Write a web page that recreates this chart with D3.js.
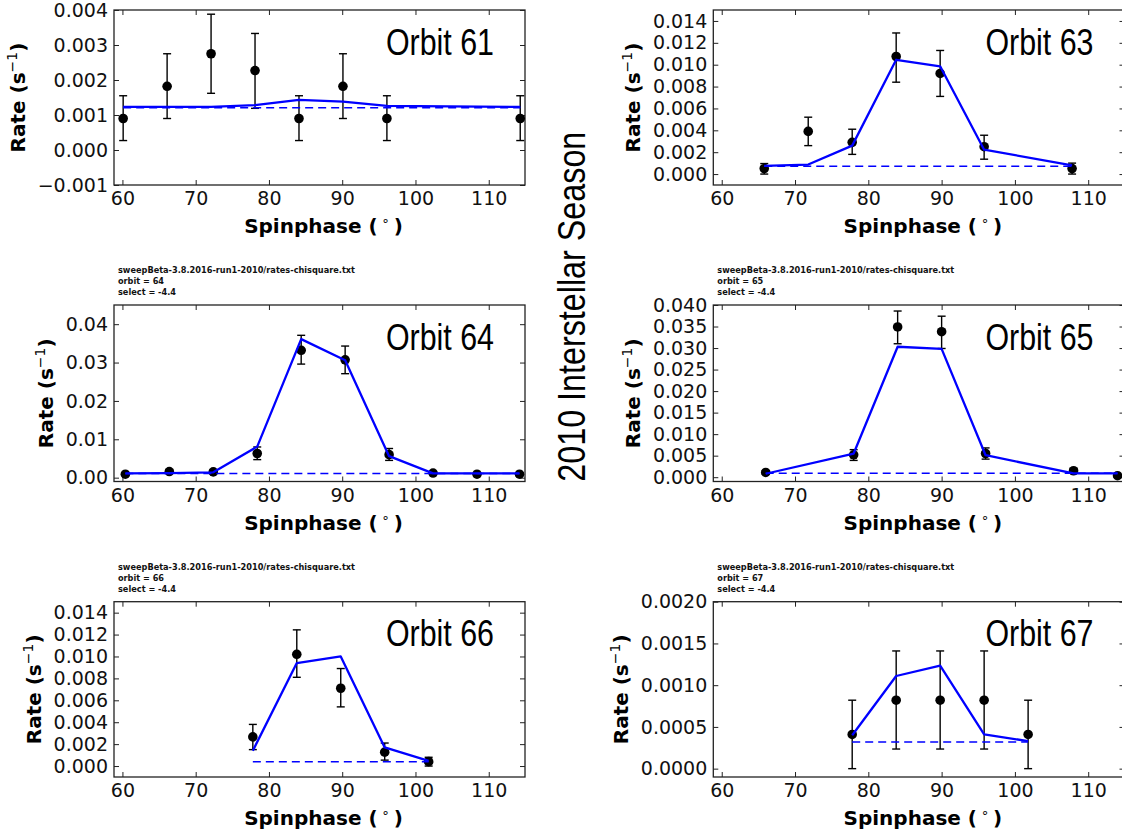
<!DOCTYPE html>
<html lang="en">
<head>
<meta charset="utf-8">
<title>2010 Interstellar Season</title>
<script src="https://d3js.org/d3.v7.min.js"></script>
<style>
  body { margin: 0; background: #fff; }
  svg { display: block; }
</style>
</head>
<body>
<svg id="fig"></svg>
<script>
// spinphase ticks shared by every panel
var xTickValues = [60, 70, 80, 90, 100, 110];

// Orbit 61
var phase61 = [60.1, 66.1, 72.1, 78.1, 84.1, 90.1, 96.1, 114.3];
var rate61  = [0.0009, 0.00182, 0.00275, 0.00227, 0.0009, 0.00182, 0.0009, 0.0009];
var lo61    = [0.00027, 0.0009, 0.00162, 0.00119, 0.00027, 0.0009, 0.00027, 0.00027];
var hi61    = [0.00155, 0.00275, 0.00388, 0.00333, 0.00155, 0.00275, 0.00155, 0.00155];
var model61 = [0.00123, 0.00123, 0.00123, 0.00128, 0.00143, 0.00138, 0.00126, 0.00123];
var base61  = 0.00121;
var yTicks61 = [-0.001, 0, 0.001, 0.002, 0.003, 0.004];

// Orbit 63
var phase63 = [65.8, 71.8, 77.8, 83.8, 89.8, 95.8, 107.8];
var rate63  = [0.00051, 0.0039, 0.0029, 0.01075, 0.0092, 0.0025, 0.0005];
var lo63    = [0.0, 0.0026, 0.0018, 0.0084, 0.0071, 0.00136, 0.0];
var hi63    = [0.00096, 0.0052, 0.0041, 0.0129, 0.0113, 0.00355, 0.001];
var model63 = [0.00075, 0.00087, 0.0026, 0.01045, 0.00985, 0.00223, 0.0008];
var base63  = 0.00072;
var yTicks63 = [0, 0.002, 0.004, 0.006, 0.008, 0.010, 0.012, 0.014];

// Orbit 64
var phase64 = [60.4, 66.4, 72.4, 78.4, 84.4, 90.4, 96.4, 102.4, 108.4, 114.2];
var rate64  = [0.0009, 0.0016, 0.0015, 0.0063, 0.0332, 0.0307, 0.006, 0.0012, 0.0009, 0.0009];
var lo64    = [0.0005, 0.0011, 0.001, 0.0047, 0.0296, 0.0271, 0.0045, 0.0008, 0.0005, 0.0005];
var hi64    = [0.0013, 0.0021, 0.002, 0.008, 0.0371, 0.0343, 0.0076, 0.0016, 0.0013, 0.0013];
var model64 = [0.0011, 0.0012, 0.0014, 0.0081, 0.0361, 0.0306, 0.0056, 0.0011, 0.0011, 0.0011];
var base64  = 0.0011;
var yTicks64 = [0, 0.01, 0.02, 0.03, 0.04];

// Orbit 65
var phase65 = [66.0, 78.0, 84.0, 90.0, 96.0, 108.0, 114.0];
var rate65  = [0.0011, 0.0052, 0.0349, 0.0338, 0.0055, 0.0015, 0.00035];
var lo65    = [0.0007, 0.0039, 0.031, 0.0299, 0.0042, 0.001, 0.0001];
var hi65    = [0.0015, 0.0064, 0.0386, 0.0374, 0.0068, 0.002, 0.0006];
var model65 = [0.0008, 0.0055, 0.0303, 0.0298, 0.0051, 0.0009, 0.0009];
var base65  = 0.0009;
var yTicks65 = [0, 0.005, 0.010, 0.015, 0.020, 0.025, 0.030, 0.035, 0.040];

// Orbit 66
var phase66 = [77.8, 83.8, 89.8, 95.8, 101.8];
var rate66  = [0.00266, 0.0102, 0.0071, 0.00127, 0.0004];
var lo66    = [0.0015, 0.0081, 0.0054, 0.00054, 0.0];
var hi66    = [0.0038, 0.01243, 0.0089, 0.0021, 0.0008];
var model66 = [0.0014, 0.0094, 0.0100, 0.0017, 0.00048];
var base66  = 0.0004;
var yTicks66 = [0, 0.002, 0.004, 0.006, 0.008, 0.010, 0.012, 0.014];

// Orbit 67
var phase67 = [77.8, 83.8, 89.8, 95.8, 101.8];
var rate67  = [0.00041, 0.00082, 0.00082, 0.00082, 0.00041];
var lo67    = [0.0, 0.000235, 0.000235, 0.000235, 0.0];
var hi67    = [0.00082, 0.00141, 0.00141, 0.00141, 0.00082];
var model67 = [0.0004, 0.00111, 0.001235, 0.00041, 0.00033];
var base67  = 0.00032;
var yTicks67 = [0, 0.0005, 0.0010, 0.0015, 0.0020];

var headerFile = "sweepBeta-3.8.2016-run1-2010/rates-chisquare.txt";
var selectText = "select = -4.4";

var svg = d3.select("#fig").attr("width", 1122).attr("height", 832);

var tickFont = "'DejaVu Sans', sans-serif";
var colLeft = [114, 525], colRight = [713.3, 1124.5];
var rows = [[10, 185], [305, 481.5], [601.7, 777]];

var panels = [
  {orbit: 61, col: colLeft,  row: rows[0], yDom: [-0.001, 0.004], fmt: ".3f", ticks: yTicks61, header: false,
   phase: phase61, rate: rate61, lo: lo61, hi: hi61, model: model61, base: base61},
  {orbit: 63, col: colRight, row: rows[0], yDom: [-0.001, 0.015], fmt: ".3f", ticks: yTicks63, header: false,
   phase: phase63, rate: rate63, lo: lo63, hi: hi63, model: model63, base: base63},
  {orbit: 64, col: colLeft,  row: rows[1], yDom: [-0.001, 0.045], fmt: ".2f", ticks: yTicks64, header: true,
   phase: phase64, rate: rate64, lo: lo64, hi: hi64, model: model64, base: base64},
  {orbit: 65, col: colRight, row: rows[1], yDom: [-0.001, 0.040], fmt: ".3f", ticks: yTicks65, header: true,
   phase: phase65, rate: rate65, lo: lo65, hi: hi65, model: model65, base: base65},
  {orbit: 66, col: colLeft,  row: rows[2], yDom: [-0.001, 0.015], fmt: ".3f", ticks: yTicks66, header: true,
   phase: phase66, rate: rate66, lo: lo66, hi: hi66, model: model66, base: base66},
  {orbit: 67, col: colRight, row: rows[2], yDom: [-0.0001, 0.002], fmt: ".4f", ticks: yTicks67, header: true,
   phase: phase67, rate: rate67, lo: lo67, hi: hi67, model: model67, base: base67}
];

panels.forEach(drawPanel);

function drawPanel(p) {
  var left = p.col[0], right = p.col[1], top = p.row[0], bottom = p.row[1];
  var x = d3.scaleLinear().domain([58.85, 114.95]).range([left, right]);
  var y = d3.scaleLinear().domain(p.yDom).range([bottom, top]);
  var g = svg.append("g");

  // axes with inward ticks on all four sides
  var ax = g.append("g").attr("transform", "translate(0," + bottom + ")")
    .call(d3.axisBottom(x).tickValues(xTickValues).tickSize(-5).tickPadding(7).tickFormat(d3.format("d")));
  var axTop = g.append("g").attr("transform", "translate(0," + top + ")")
    .call(d3.axisTop(x).tickValues(xTickValues).tickSize(-5).tickFormat(""));
  var ay = g.append("g").attr("transform", "translate(" + left + ",0)")
    .call(d3.axisLeft(y).tickValues(p.ticks).tickSize(-5).tickPadding(6).tickFormat(d3.format(p.fmt)));
  var ayRight = g.append("g").attr("transform", "translate(" + right + ",0)")
    .call(d3.axisRight(y).tickValues(p.ticks).tickSize(-5).tickFormat(""));

  [ax, axTop, ay, ayRight].forEach(function (a) {
    a.select(".domain").remove();
    a.selectAll(".tick line").attr("stroke", "#222").attr("stroke-width", 1);
    a.selectAll("text").attr("font-family", tickFont).attr("font-size", 19).attr("fill", "#111");
  });

  g.append("rect")
    .attr("x", left).attr("y", top)
    .attr("width", right - left).attr("height", bottom - top)
    .attr("fill", "none").attr("stroke", "#222").attr("stroke-width", 1.3);

  // error bars
  var idx = d3.range(p.phase.length);
  var bars = g.append("g").attr("stroke", "#000").attr("stroke-width", 1.4);
  bars.selectAll(".eb").data(idx).enter().append("line")
    .attr("x1", function (i) { return x(p.phase[i]); })
    .attr("x2", function (i) { return x(p.phase[i]); })
    .attr("y1", function (i) { return y(p.lo[i]); })
    .attr("y2", function (i) { return y(p.hi[i]); });
  ["lo", "hi"].forEach(function (k) {
    bars.selectAll(".cap-" + k).data(idx).enter().append("line")
      .attr("x1", function (i) { return x(p.phase[i]) - 4; })
      .attr("x2", function (i) { return x(p.phase[i]) + 4; })
      .attr("y1", function (i) { return y(p[k][i]); })
      .attr("y2", function (i) { return y(p[k][i]); });
  });

  g.selectAll(".dot").data(idx).enter().append("circle")
    .attr("cx", function (i) { return x(p.phase[i]); })
    .attr("cy", function (i) { return y(p.rate[i]); })
    .attr("r", 4.8).attr("fill", "#000");

  // background level (dashed) and model (solid)
  g.append("line")
    .attr("x1", x(p.phase[0])).attr("x2", x(p.phase[p.phase.length - 1]))
    .attr("y1", y(p.base)).attr("y2", y(p.base))
    .attr("stroke", "#0000ff").attr("stroke-width", 1.5).attr("stroke-dasharray", "8,5");

  var line = d3.line()
    .x(function (i) { return x(p.phase[i]); })
    .y(function (i) { return y(p.model[i]); });
  g.append("path").datum(idx).attr("d", line)
    .attr("fill", "none").attr("stroke", "#0000ff").attr("stroke-width", 2.3)
    .attr("stroke-linejoin", "round");

  // y label sits just outside the tick labels, like matplotlib does
  var tickBox = ay.node().getBBox();
  var labelX = left + tickBox.x - 12.5;
  var yl = g.append("text")
    .attr("transform", "translate(" + labelX + "," + ((top + bottom) / 2) + ") rotate(-90)")
    .attr("text-anchor", "middle")
    .attr("font-family", tickFont).attr("font-size", 20).attr("font-weight", "bold");
  yl.append("tspan").text("Rate (s");
  yl.append("tspan").attr("dy", -8).attr("font-size", 14).attr("font-weight", "normal").text("\u22121");
  yl.append("tspan").attr("dy", 8).text(")");

  var xl = g.append("text")
    .attr("x", (left + right) / 2 + 4).attr("y", bottom + 48)
    .attr("text-anchor", "middle")
    .attr("font-family", tickFont).attr("font-size", 20).attr("font-weight", "bold");
  xl.append("tspan").text("Spinphase (\u2009");
  xl.append("tspan").attr("dy", -8).attr("font-size", 13).attr("font-weight", "normal").text("\u2218");
  xl.append("tspan").attr("dy", 8).text("\u2009)");

  g.append("text")
    .attr("x", right - 31 - 108).attr("y", top + 44.5)
    .attr("font-family", "'Liberation Sans', Arial, sans-serif").attr("font-size", 36)
    .attr("textLength", 108).attr("lengthAdjust", "spacingAndGlyphs")
    .text("Orbit " + p.orbit);

  if (p.header) {
    var hdr = [headerFile, "orbit = " + p.orbit, selectText];
    var widths = [237, 46, 58];
    g.selectAll(".hdr").data(hdr).enter().append("text")
      .attr("x", left + 4)
      .attr("y", function (d, i) { return top - 32 + i * 11; })
      .attr("font-family", "'DejaVu Sans Condensed', 'DejaVu Sans', sans-serif")
      .attr("font-size", 9).attr("font-weight", "bold").attr("fill", "#111")
      .attr("textLength", function (d, i) { return widths[i]; })
      .attr("lengthAdjust", "spacingAndGlyphs")
      .text(function (d) { return d; });
  }
}

// season title between the two columns
svg.append("text")
  .attr("transform", "translate(585,306.7) rotate(-90)")
  .attr("text-anchor", "middle")
  .attr("font-family", "'Liberation Sans', Arial, sans-serif").attr("font-size", 39)
  .attr("textLength", 350).attr("lengthAdjust", "spacingAndGlyphs")
  .text("2010 Interstellar Season");
</script>
</body>
</html>
